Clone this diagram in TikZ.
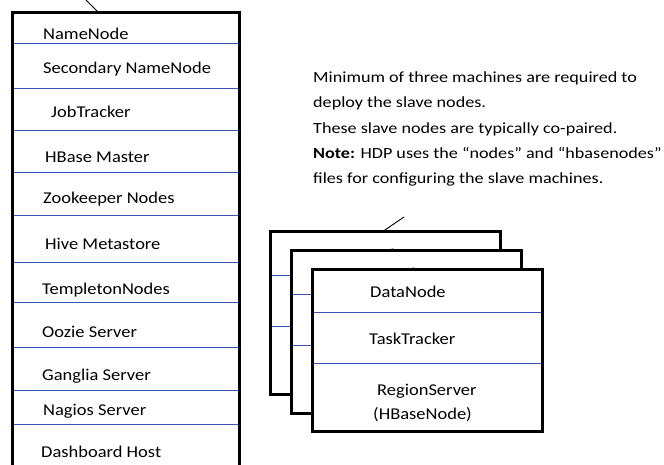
\documentclass[tikz,border=0pt]{standalone}
\usepackage{fontspec}
\setmainfont{Carlito}[FakeStretch=1.12]
\newfontfamily\notefont{Carlito}[FakeStretch=1.17]
\begin{document}
\begin{tikzpicture}[x=1pt,y=-1pt,
  frame/.style={draw=black,line width=3pt,fill=white},
  sep/.style={draw={rgb,255:red,55;green,85;blue,185},line width=0.9pt},
  stub/.style={draw=black,line width=0.9pt},
  lab/.style={anchor=base west,inner sep=0pt,font=\fontsize{16.5}{18}\selectfont},
  note/.style={anchor=base west,inner sep=0pt,font=\notefont\fontsize{15.5}{18}\selectfont}]
\useasboundingbox (0,0) rectangle (664,465);
% master box
\coordinate (mtop) at (98,12);
\coordinate (mstub) at (86,0);
\draw[stub] (mstub) -- (mtop);
\draw[frame] (12,13) rectangle (239,472);
\foreach \y in {43,88,130,172,215,262,302,347,390,424}
  \draw[sep] (13.5,\y) -- (237.5,\y);
\node[lab] (nn)  at (43,40)  {NameNode};
\node[lab] (snn) at (43,74)  {Secondary NameNode};
\node[lab] (jt)  at (51,118) {JobTracker};
\node[lab] (hm)  at (45,163) {HBase Master};
\node[lab] (zk)  at (43,204) {Zookeeper Nodes};
\node[lab] (hive) at (45,249) {Hive Metastore};
\node[lab] (tmp) at (42,294) {TempletonNodes};
\node[lab] (oz)  at (42,337) {Oozie Server};
\node[lab] (gg)  at (42,380) {Ganglia Server};
\node[lab] (ng)  at (43,415) {Nagios Server};
\node[lab] (dh)  at (41,457) {Dashboard Host};
% note
\node[note] (t1) at (313,83)  {Minimum of three machines are required to};
\node[note] (t2) at (313,108) {deploy the slave nodes.};
\node[note] (t3) at (313,134) {These slave nodes are typically co-paired.};
\node[note] (t4) at (313,159) {\textbf{Note:} HDP uses the “nodes” and “hbasenodes”};
\node[note] (t5) at (313,184) {files for configuring the slave machines.};
% slave stack
\coordinate (stop) at (382,232);
\coordinate (sstub) at (404,217);
\draw[stub] (sstub) -- (stop);
\foreach \dx/\dy [count=\i] in {0/0,21/19,42/37}{
  \begin{scope}[shift={(\dx,\dy)}]
    \draw[frame] (270,232) rectangle (500,394);
    \draw[sep] (271.5,275) -- (498.5,275);
    \draw[sep] (271.5,326) -- (498.5,326);
    \node[lab] (dn\i) at (328,260) {DataNode};
  \end{scope}}
\begin{scope}[shift={(42,37)}]
  \node[lab] (tt) at (327,307) {TaskTracker};
  \node[lab] (rs) at (335,358) {RegionServer};
  \node[lab] (hb) at (331,382) {(HBaseNode)};
\end{scope}
\end{tikzpicture}
\end{document}
